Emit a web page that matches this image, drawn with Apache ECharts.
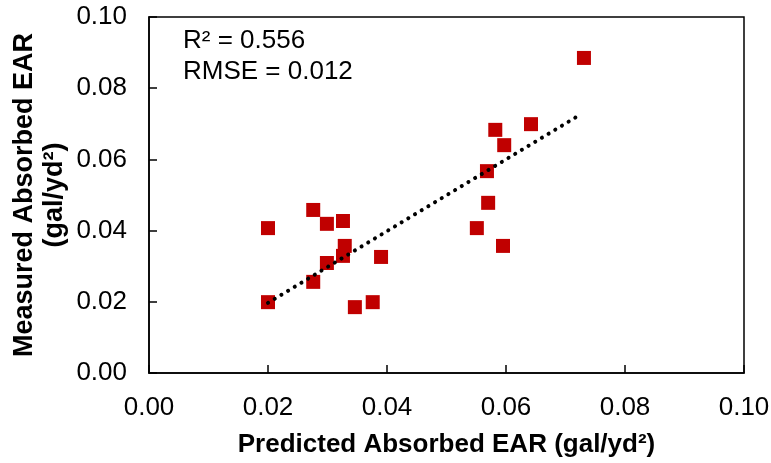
<!DOCTYPE html>
<html>
<head>
<meta charset="utf-8">
<script src="https://cdn.jsdelivr.net/npm/echarts@6/dist/echarts.min.js"></script>
<style>html,body{margin:0;padding:0;background:#fff}#c{width:771px;height:463px}</style>
</head>
<body>
<div id="c"></div>
<script>
// Predicted (x) and measured (y) absorbed EAR, gal/yd²
const predicted = [0.0200, 0.0276, 0.0299, 0.0326, 0.0329, 0.0326, 0.0390, 0.0299, 0.0276, 0.0200,
                   0.0346, 0.0376, 0.0570, 0.0551, 0.0595, 0.0731, 0.0582, 0.0642, 0.0597, 0.0568];
const measured  = [0.0407, 0.0458, 0.0419, 0.0427, 0.0357, 0.0329, 0.0326, 0.0309, 0.0256, 0.0199,
                   0.0185, 0.0199, 0.0478, 0.0407, 0.0357, 0.0885, 0.0683, 0.0699, 0.0640, 0.0567];
// Trend line end points
const trendX = [0.0200, 0.0724];
const trendY = [0.0197, 0.0725];
const annotations = ['R² = 0.556', 'RMSE = 0.012'];
const xTitle = 'Predicted Absorbed EAR (gal/yd²)';
const yTitle = 'Measured Absorbed EAR\n(gal/yd²)';

const pts = predicted.map((x, i) => [x, measured[i]]);
const trend = trendX.map((x, i) => [x, trendY[i]]);
const FONT = '"Liberation Sans", Arial, sans-serif';

const chart = echarts.init(document.getElementById('c'), null, {renderer: 'canvas'});
chart.setOption({
  animation: false,
  backgroundColor: '#fff',
  grid: {left: 149, right: 27, top: 17, bottom: 90, show: true, borderColor: '#000', borderWidth: 1.5,
         containLabel: false, outerBoundsMode: 'none'},
  xAxis: {
    type: 'value', min: 0, max: 0.1, interval: 0.02,
    name: xTitle, nameLocation: 'middle', nameGap: 59, nameMoveOverlap: false,
    nameTextStyle: {fontFamily: FONT, fontSize: 26, fontWeight: 'bold', color: '#000'},
    axisLine: {show: true, lineStyle: {color: '#000', width: 1.5}},
    axisTick: {show: true, inside: true, length: 8, lineStyle: {color: '#000', width: 1.5}},
    axisLabel: {fontFamily: FONT, fontSize: 26, color: '#000', margin: 22, formatter: v => v.toFixed(2)},
    splitLine: {show: false}
  },
  yAxis: {
    type: 'value', min: 0, max: 0.1, interval: 0.02,
    name: yTitle, nameLocation: 'middle', nameGap: 79, nameMoveOverlap: false,
    nameTextStyle: {fontFamily: FONT, fontSize: 27, fontWeight: 'bold', color: '#000', lineHeight: 30, align: 'center'},
    axisLine: {show: true, lineStyle: {color: '#000', width: 1.5}},
    axisTick: {show: true, inside: true, length: 8, lineStyle: {color: '#000', width: 1.5}},
    axisLabel: {fontFamily: FONT, fontSize: 26, color: '#000', margin: 22, formatter: v => v.toFixed(2)},
    splitLine: {show: false}
  },
  graphic: [
    {type: 'text', left: 183, top: 28, style: {text: annotations[0], font: '26px ' + FONT, fill: '#000'}},
    {type: 'text', left: 183, top: 59, style: {text: annotations[1], font: '26px ' + FONT, fill: '#000'}}
  ],
  series: [
    {type: 'scatter', data: pts, symbol: 'rect', symbolSize: 14, itemStyle: {color: '#C00000', opacity: 1}, z: 2},
    {type: 'line', data: trend, symbol: 'none', z: 3,
     lineStyle: {color: '#000', width: 4, type: [0.1, 7.7], cap: 'round'}}
  ]
});
</script>
</body>
</html>
